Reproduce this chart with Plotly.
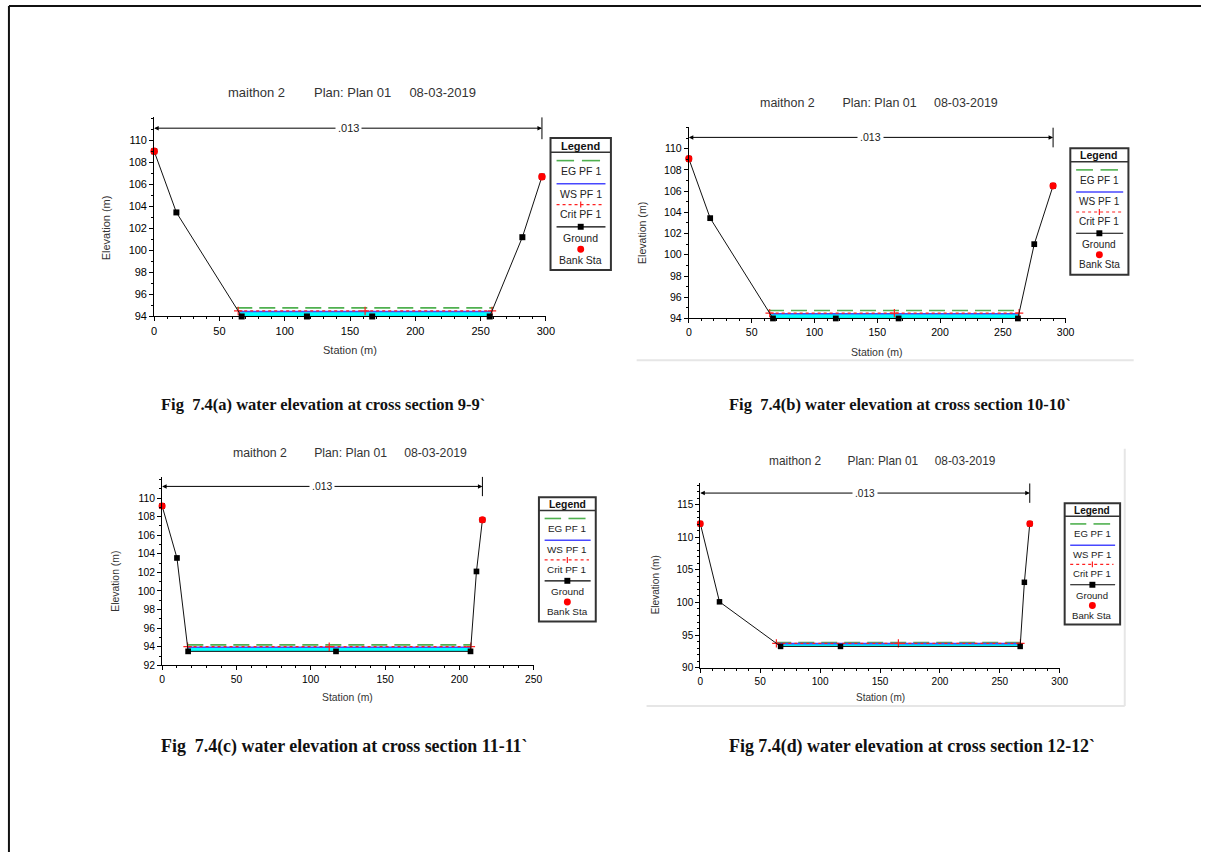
import numpy as np
import plotly.graph_objects as go

W, H = 1210, 858

# ---------------- data ----------------
title_parts = ["maithon 2", "Plan: Plan 01", "08-03-2019"]
mannings_n = ".013"
legend_labels = ["EG PF 1", "WS PF 1", "Crit PF 1", "Ground", "Bank Sta"]

sta_a = [0, 17, 67, 117, 167, 257, 282, 297]
elev_a = [109.0, 103.45, 94.0, 94.0, 94.0, 94.0, 101.2, 106.7]
bank_a = [0, 297]
ws_a, eg_a, crit_a = 94.45, 94.78, 94.5

sta_b = [0, 17, 67, 117, 167, 262, 275, 290]
elev_b = [109.05, 103.45, 94.0, 94.0, 94.0, 94.0, 101.0, 106.5]
bank_b = [0, 290]
ws_b, eg_b, crit_b = 94.44, 94.75, 94.5

sta_c = [0, 10, 17.5, 117, 207.5, 211.5, 215.5]
elev_c = [109.15, 103.55, 93.5, 93.5, 93.5, 102.1, 107.65]
bank_c = [0, 215.5]
ws_c, eg_c, crit_c = 93.95, 94.2, 94.0

sta_d = [0, 16, 67, 117, 267, 270.5, 275]
elev_d = [112.1, 100.1, 93.25, 93.25, 93.25, 103.1, 112.1]
bank_d = [0, 275]
ws_d, eg_d, crit_d = 93.68, 93.85, 93.72

xticks_a = [0, 50, 100, 150, 200, 250, 300]
xticks_c = [0, 50, 100, 150, 200, 250]
yticks_a = [94, 96, 98, 100, 102, 104, 106, 108, 110]
yticks_c = [92, 94, 96, 98, 100, 102, 104, 106, 108, 110]
yticks_d = [90, 95, 100, 105, 110, 115]

caption_a = "Fig\u00a0 7.4(a) water elevation at cross section 9-9`"
caption_b = "Fig\u00a0 7.4(b) water elevation at cross section 10-10`"
caption_c = "Fig\u00a0 7.4(c) water elevation at cross section 11-11`"
caption_d = "Fig 7.4(d) water elevation at cross section 12-12`"

panels = [
    dict(sta=sta_a, elev=elev_a, bank=bank_a, ws=ws_a, eg=eg_a, crit=crit_a,
         xt=xticks_a, yt=yticks_a, cap=caption_a),
    dict(sta=sta_b, elev=elev_b, bank=bank_b, ws=ws_b, eg=eg_b, crit=crit_b,
         xt=xticks_a, yt=yticks_a, cap=caption_b),
    dict(sta=sta_c, elev=elev_c, bank=bank_c, ws=ws_c, eg=eg_c, crit=crit_c,
         xt=xticks_c, yt=yticks_c, cap=caption_c),
    dict(sta=sta_d, elev=elev_d, bank=bank_d, ws=ws_d, eg=eg_d, crit=crit_d,
         xt=xticks_a, yt=yticks_d, cap=caption_d),
]

# ---------------- layout geometry (pixels) ----------------
geom = [
    dict(px0=152.7, px1=548.3, pyb=318.7, pyt=118.0, xr=[0, 300], yr=[94, 112.1], ymin=1,
         s=1.0, title=(353, 93), elev=(104, 229), station=(350, 352.5),
         leg=(553, 139, 61, 133), ny=111.1, cap=(158, 407), capsize=16.5),
    dict(px0=692.7, px1=1073.3, pyb=320.7, pyt=128.3, xr=[0, 300], yr=[94, 112.0], ymin=1,
         s=0.96, title=(885, 104), elev=(646, 235), station=(883, 354),
         leg=(1078, 149.3, 58.7, 127.4), ny=111.06, cap=(731, 407), capsize=16.5),
    dict(px0=160.7, px1=536.0, pyb=670.0, pyt=480.0, xr=[0, 250], yr=[92, 112.3], ymin=1,
         s=0.945, title=(350, 456), elev=(114, 585), station=(348, 702),
         leg=(541.3, 500.7, 57.4, 125.3), ny=111.25, cap=(158, 752), capsize=17.9),
    dict(px0=704.3, px1=1067.3, pyb=672.3, pyt=486.7, xr=[0, 300], yr=[90, 118.3], ymin=1,
         s=0.915, title=(888, 464), elev=(659, 589), station=(886, 702),
         leg=(1072.3, 506.7, 56, 122.3), ny=116.8, cap=(731, 752), capsize=17.9),
]

FONT = "Liberation Sans, Arial, sans-serif"
C_EG = "#4fb04f"
C_WS = "#4848ff"
C_CRIT = "#ff2020"
C_WATER = "#00ffff"


def PX(x):
    return x / W


def PY(y):
    return 1 - y / H


def edges(sta, elev, lvl):
    s = np.asarray(sta, float)
    e = np.asarray(elev, float)
    xl = s[0]
    xr = s[-1]
    for i in range(len(s) - 1):
        if e[i] > lvl >= e[i + 1]:
            xl = s[i] + (e[i] - lvl) / (e[i] - e[i + 1]) * (s[i + 1] - s[i])
            break
    for i in range(len(s) - 1, 0, -1):
        if e[i] > lvl >= e[i - 1]:
            xr = s[i - 1] + (lvl - e[i - 1]) / (e[i] - e[i - 1]) * (s[i] - s[i - 1])
            break
    return xl, xr


def ptext(x, y, text, size, color="#222", family=FONT, xanchor="center", angle=0):
    return dict(x=PX(x), y=PY(y), xref="paper", yref="paper", text=text, showarrow=False,
                xanchor=xanchor, yanchor="middle", textangle=angle,
                font=dict(family=family, size=size, color=color))


def pline(x0, y0, x1, y1, color, width, dash="solid"):
    return dict(type="line", xref="paper", yref="paper", x0=PX(x0), x1=PX(x1),
                y0=PY(y0), y1=PY(y1), line=dict(color=color, width=width, dash=dash))


fig = go.Figure()
shapes = []
annots = []

for k, (p, g) in enumerate(zip(panels, geom)):
    n = "" if k == 0 else str(k + 1)
    xa, ya = "x" + n, "y" + n
    s = g["s"]
    sta, elev = p["sta"], p["elev"]

    # water fill
    wl, wr = edges(sta, elev, p["ws"])
    inner = [(x, y) for x, y in zip(sta, elev) if wl < x < wr]
    wx = [wl] + [q[0] for q in inner] + [wr, wl]
    wy = [p["ws"]] + [q[1] for q in inner] + [p["ws"], p["ws"]]
    fig.add_trace(go.Scatter(x=wx, y=wy, xaxis=xa, yaxis=ya, mode="lines", fill="toself",
                             fillcolor=C_WATER, line=dict(width=0), hoverinfo="skip",
                             showlegend=False))
    # EG
    el, er = edges(sta, elev, p["eg"])
    fig.add_trace(go.Scatter(x=[el, er], y=[p["eg"], p["eg"]], xaxis=xa, yaxis=ya, mode="lines",
                             line=dict(color=C_EG, width=1.6, dash="16px,7px"), showlegend=False))
    # WS
    fig.add_trace(go.Scatter(x=[wl, wr], y=[p["ws"], p["ws"]], xaxis=xa, yaxis=ya, mode="lines",
                             line=dict(color=C_WS, width=1.6), showlegend=False))
    # Crit
    cl, cr = edges(sta, elev, p["crit"])
    fig.add_trace(go.Scatter(x=[cl, (cl + cr) / 2, cr], y=[p["crit"]] * 3, xaxis=xa, yaxis=ya,
                             mode="lines+markers", cliponaxis=False,
                             line=dict(color=C_CRIT, width=1.2, dash="dot"),
                             marker=dict(symbol="cross-thin", size=6,
                                         line=dict(color=C_CRIT, width=1.2)),
                             showlegend=False))
    # Ground
    fig.add_trace(go.Scatter(x=sta, y=elev, xaxis=xa, yaxis=ya, mode="lines+markers",
                             cliponaxis=False, line=dict(color="#111111", width=1),
                             marker=dict(symbol="square", size=6 * s, color="black"),
                             showlegend=False))
    # Bank stations
    by = np.interp(p["bank"], sta, elev)
    fig.add_trace(go.Scatter(x=p["bank"], y=by, xaxis=xa, yaxis=ya, mode="markers",
                             cliponaxis=False,
                             marker=dict(symbol="circle", size=7.5 * s, color="#ff0000"),
                             showlegend=False))

    ax_common = dict(showline=True, linecolor="black", linewidth=1, ticks="outside",
                     ticklen=4, tickcolor="black", showgrid=False, zeroline=False,
                     tickfont=dict(family=FONT, size=11 * s, color="black"))
    fig.update_layout(**{
        ("xaxis" + n): dict(domain=[PX(g["px0"]), PX(g["px1"])], range=g["xr"], anchor=ya,
                            tickmode="array", tickvals=p["xt"],
                            minor=dict(ticks="outside", ticklen=2, tickcolor="black",
                                       tick0=0, dtick=10),
                            **ax_common),
        ("yaxis" + n): dict(domain=[PY(g["pyb"]), PY(g["pyt"])], range=g["yr"], anchor=xa,
                            tickmode="array", tickvals=p["yt"],
                            minor=dict(ticks="outside", ticklen=2, tickcolor="black",
                                       tick0=0, dtick=g["ymin"]),
                            **ax_common),
    })

    # title and axis titles
    gap1 = "\u00a0" * 8
    gap2 = "\u00a0" * 5
    annots.append(ptext(g["title"][0], g["title"][1],
                        title_parts[0] + gap1 + title_parts[1] + gap2 + title_parts[2],
                        13 * s, color="#333"))
    annots.append(ptext(g["elev"][0], g["elev"][1], "Elevation (m)", 11 * s, color="#333",
                        angle=-90))
    annots.append(ptext(g["station"][0], g["station"][1], "Station (m)", 11 * s, color="#333"))

    # Manning's n arrow across bank stations
    xend = p["bank"][1]
    yn = g["ny"]
    top = g["yr"][1]
    for xt in (p["bank"][0], xend):
        annots.append(dict(x=xt, y=yn, ax=xend / 2, ay=yn, xref=xa, yref=ya, axref=xa, ayref=ya,
                           text="", showarrow=True, arrowhead=2, arrowsize=0.9, arrowwidth=1,
                           arrowcolor="black"))
    annots.append(dict(x=xend / 2, y=yn, xref=xa, yref=ya, text=mannings_n, showarrow=False,
                       xanchor="center", yanchor="middle", bgcolor="white", borderpad=2,
                       font=dict(family=FONT, size=11 * s, color="#222")))
    shapes.append(dict(type="line", xref=xa, yref=ya, x0=xend, x1=xend,
                       y0=yn - (top - yn), y1=top, line=dict(color="black", width=1)))

    # custom legend box
    lx, ly, lw, lh = g["leg"]
    fx = lambda f: lx + f * lw
    fy = lambda f: ly + f * lh
    shapes.append(dict(type="rect", xref="paper", yref="paper", x0=PX(fx(0)), x1=PX(fx(1)),
                       y0=PY(fy(0)), y1=PY(fy(1)), line=dict(color="#333", width=2)))
    shapes.append(pline(fx(0), fy(0.107), fx(1), fy(0.107), "#333", 1.5))
    annots.append(ptext(fx(0.5), fy(0.057), "<b>Legend</b>", 11 * s, color="#111"))
    # EG sample
    for a0, a1 in ((0.10, 0.39), (0.52, 0.82)):
        shapes.append(pline(fx(a0), fy(0.171), fx(a1), fy(0.171), C_EG, 1.6))
    # WS sample
    shapes.append(pline(fx(0.10), fy(0.346), fx(0.91), fy(0.346), C_WS, 1.6))
    # Crit sample
    shapes.append(pline(fx(0.10), fy(0.504), fx(0.88), fy(0.504), C_CRIT, 1.2, "dot"))
    cx, cy = fx(0.5), fy(0.504)
    shapes.append(pline(cx, cy - 3, cx, cy + 3, C_CRIT, 1.2))
    # Ground sample
    shapes.append(pline(fx(0.10), fy(0.672), fx(0.91), fy(0.672), "black", 1.2))
    gx, gy = fx(0.5), fy(0.672)
    shapes.append(dict(type="rect", xref="paper", yref="paper", x0=PX(gx - 3), x1=PX(gx + 3),
                       y0=PY(gy - 3), y1=PY(gy + 3), fillcolor="black",
                       line=dict(color="black", width=0)))
    # Bank sample
    bx, byy = fx(0.5), fy(0.842)
    shapes.append(dict(type="circle", xref="paper", yref="paper", x0=PX(bx - 3.5),
                       x1=PX(bx + 3.5), y0=PY(byy - 3.5), y1=PY(byy + 3.5),
                       fillcolor="#ff0000", line=dict(color="#ff0000", width=0)))
    for lab, f in zip(legend_labels, (0.253, 0.421, 0.579, 0.759, 0.922)):
        annots.append(ptext(fx(0.5), fy(f), lab, 10.5 * s, color="#222"))

    # caption
    annots.append(ptext(g["cap"][0], g["cap"][1], "<b>" + p["cap"] + "</b>", g["capsize"],
                        color="#111", family="Liberation Serif, Times New Roman, serif",
                        xanchor="left"))

# faint frames of embedded screenshots
shapes.append(pline(640, 362.7, 1142, 362.7, "#e6e6e6", 2))
shapes.append(pline(1133, 452, 1133, 711, "#e6e6e6", 2))
shapes.append(pline(650, 711, 1133, 711, "#e6e6e6", 2))
# page border
shapes.append(pline(6, 6, W, 6, "#111", 2))
shapes.append(pline(6, 6, 6, H, "#111", 2))

fig.update_layout(width=W, height=H, margin=dict(l=0, r=0, t=0, b=0),
                  paper_bgcolor="white", plot_bgcolor="white", showlegend=False,
                  shapes=shapes, annotations=annots,
                  font=dict(family=FONT))

fig.write_html("out.html", config={"displayModeBar": False},
               post_script="document.body.style.margin='0px';document.body.style.overflow='hidden';")
